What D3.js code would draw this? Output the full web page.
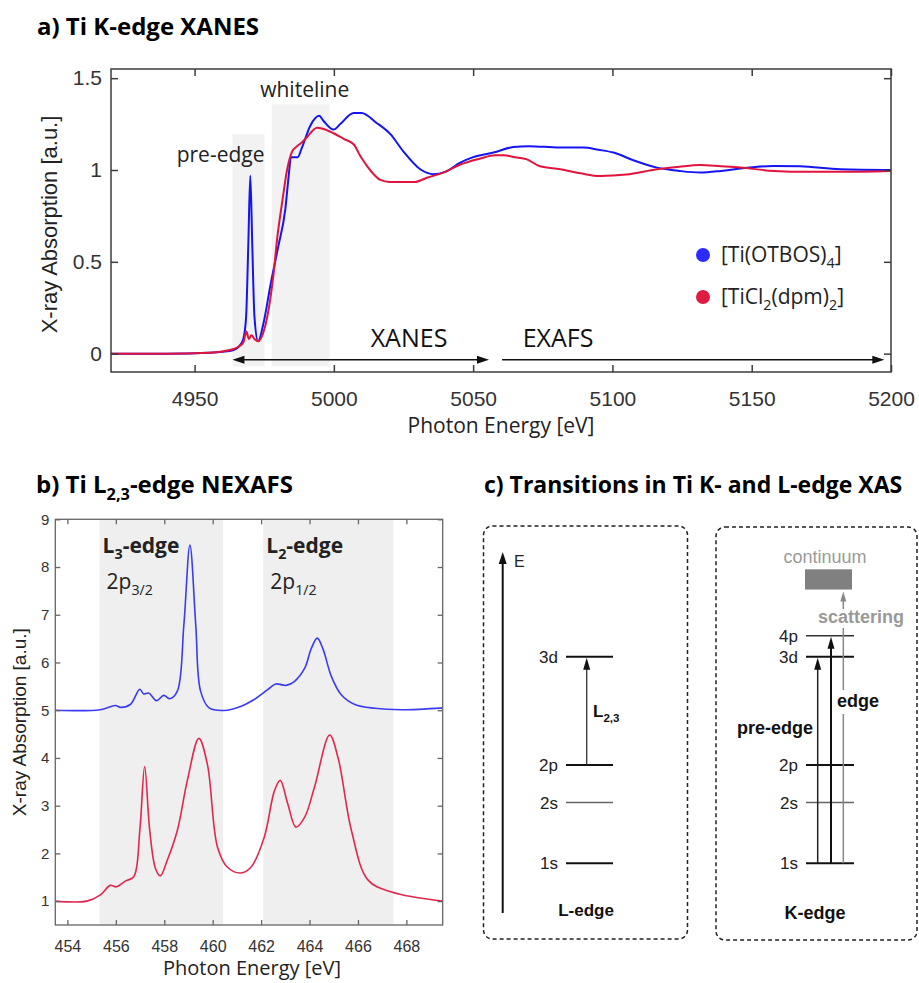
<!DOCTYPE html>
<html>
<head>
<meta charset="utf-8">
<script src="https://cdn.jsdelivr.net/npm/d3@7"></script>
<style>
  body { margin: 0; background: #fff; }
  svg { display: block; }
</style>
</head>
<body>
<div id="app"></div>
<script>
// ---- a) Ti K-edge XANES ----
const otbosEnergy = [4920, 4940, 4955, 4960, 4964, 4966, 4967.5, 4968.5, 4969.3, 4970, 4970.7, 4971.5, 4972.8,
  4974.8, 4977.2, 4980, 4982.6, 4983.8, 4984.6, 4987, 4988.5, 4991.5, 4994.7, 4996.3, 4999.9, 5002.3, 5007.1,
  5010, 5015, 5020.3, 5025, 5031, 5035.8, 5040, 5045.4, 5050, 5057.3, 5064.4, 5070, 5081, 5089.6, 5095,
  5100.4, 5108, 5116, 5124, 5131.5, 5139, 5145.9, 5157.8, 5167.4, 5181.8, 5200];
const otbosAbs = [0, 0, 0.005, 0.01, 0.02, 0.04, 0.08, 0.2, 0.6, 0.97, 0.6, 0.2, 0.067,
  0.17, 0.37, 0.58, 0.79, 0.97, 1.07, 1.07, 1.12, 1.24, 1.295, 1.267, 1.22, 1.25, 1.31,
  1.31, 1.26, 1.195, 1.10, 1.004, 0.977, 0.99, 1.04, 1.07, 1.095, 1.125, 1.13, 1.122, 1.122, 1.11,
  1.095, 1.05, 1.013, 0.995, 0.986, 0.995, 1.008, 1.022, 1.02, 1.004, 1.0];

const ticlEnergy = [4920, 4940, 4955, 4960, 4964, 4966, 4967.5, 4968.6, 4969.5, 4970.4, 4971.5, 4972.8, 4975,
  4977.2, 4978.4, 4979.6, 4981.5, 4983.2, 4985, 4986.8, 4988.5, 4990.4, 4994, 4996, 4999.9, 5003.5, 5007.1,
  5009.5, 5012, 5014.3, 5016.7, 5020, 5025, 5029, 5033.4, 5040, 5045.4, 5052, 5058, 5061, 5065, 5069.3, 5074,
  5081.3, 5088.5, 5095.6, 5105, 5116, 5124, 5131.5, 5139, 5145.9, 5158, 5170, 5181.8, 5200];
const ticlAbs = [0, 0, 0.005, 0.012, 0.025, 0.04, 0.06, 0.12, 0.08, 0.10, 0.08, 0.067, 0.13,
  0.30, 0.44, 0.62, 0.83, 1.0, 1.10, 1.13, 1.15, 1.18, 1.23, 1.225, 1.20, 1.17, 1.14,
  1.076, 1.02, 0.977, 0.946, 0.935, 0.935, 0.935, 0.958, 0.99, 1.03, 1.06, 1.08, 1.08, 1.07, 1.058, 1.02,
  1.004, 0.982, 0.967, 0.975, 1.004, 1.018, 1.027, 1.02, 1.013, 0.995, 0.99, 0.99, 0.995];

const kTicksX = [4950, 5000, 5050, 5100, 5150, 5200];
const kTicksY = [0, 0.5, 1, 1.5];
const kBands = [
  { name: 'pre-edge', from: 4963.6, to: 4975.1, top: 1.195 },
  { name: 'whiteline', from: 4977.7, to: 4998.5, top: 1.358 }
];
const kRegions = [
  { name: 'XANES', from: 4963.6, to: 5055.7, heads: ['left', 'right'] },
  { name: 'EXAFS', from: 5060.4, to: 5197.6, heads: ['right'] }
];
const kLegend = [
  { parts: [['[Ti(OTBOS)'], ['4', 1], [']']], color: '#2b2bff' },
  { parts: [['[TiCl'], ['2', 1], ['(dpm)'], ['2', 1], [']']], color: '#e01a40' }
];

// ---- b) Ti L2,3-edge NEXAFS ----
const lBlueEnergy = [453.5, 455.35, 455.98, 456.2, 456.6, 456.99, 457.15, 457.36, 457.68, 457.98, 458.23, 458.54,
  458.81, 459.06, 459.3, 459.5, 459.85, 460.6, 461.16, 461.7, 462.27, 462.6, 463.03, 463.37, 463.8, 464.07,
  464.32, 464.55, 464.9, 465.3, 465.87, 466.7, 467.8, 469.5];
const lBlueAbs = [5.0, 5.01, 5.10, 5.06, 5.12, 5.44, 5.34, 5.36, 5.20, 5.31, 5.24, 5.40,
  6.79, 8.46, 6.79, 5.40, 5.05, 5.0, 5.08, 5.22, 5.43, 5.55, 5.52, 5.60, 5.88, 6.29,
  6.51, 6.29, 5.71, 5.33, 5.12, 5.04, 5.01, 5.05];

const lRedEnergy = [453.5, 454.8, 455.35, 455.77, 456.02, 456.39, 456.74, 456.99, 457.19, 457.4, 457.64, 457.84,
  458.12, 458.54, 458.95, 459.43, 459.78, 460.2, 460.61, 461.16, 461.58, 462.13, 462.55, 462.79, 463.1, 463.44,
  463.8, 464.2, 464.83, 465.18, 465.73, 466.42, 467.39, 469.5];
const lRedAbs = [1.0, 1.0, 1.125, 1.33, 1.30, 1.42, 1.51, 2.48, 3.82, 2.48, 1.68, 1.53,
  1.85, 2.48, 3.52, 4.41, 3.87, 2.13, 1.71, 1.59, 1.71, 2.34, 3.31, 3.53, 3.04, 2.55,
  2.76, 3.38, 4.48, 4.0, 2.48, 1.44, 1.19, 1.0];

const lTicksX = [454, 456, 458, 460, 462, 464, 466, 468];
const lTicksY = [1, 2, 3, 4, 5, 6, 7, 8, 9];
const lBands = [
  { from: 455.33, to: 460.43, edge: [['L'], ['3', 1], ['-edge']], orbital: [['2p'], ['3/2', 1]] },
  { from: 462.09, to: 467.46, edge: [['L'], ['2', 1], ['-edge']], orbital: [['2p'], ['1/2', 1]] }
];

// ---- c) level diagram (relative energy) ----
const levelNames = ['1s', '2s', '2p', '3d', '4p'];
const levelEnergy = [0.138, 0.306, 0.41, 0.71, 0.768];
const continuumRange = [0.896, 0.952];

const calibri = "'Open Sans', sans-serif";
const arial = "'Liberation Sans', Arial, sans-serif";

const svg = d3.select('#app').append('svg')
  .attr('width', 919)
  .attr('height', 983)
  .attr('viewBox', '0 0 919 983');

const richText = (g, parts, size) => {
  const t = g.append('text').attr('font-size', size);
  let shifted = false;
  parts.forEach(([s, sub]) => {
    const span = t.append('tspan').text(s);
    if (sub && !shifted) { span.attr('dy', size * 0.28); shifted = true; }
    if (!sub && shifted) { span.attr('dy', -size * 0.28); shifted = false; }
    if (sub) span.attr('font-size', size * 0.68);
  });
  return t;
};

const arrowHead = (g, x, y, dir, len, half, fill) => {
  const pts = {
    up: [[x, y], [x - half, y + len], [x + half, y + len]],
    left: [[x, y], [x + len, y - half], [x + len, y + half]],
    right: [[x, y], [x - len, y - half], [x - len, y + half]]
  }[dir];
  g.append('path').attr('d', d3.line()(pts) + 'Z').attr('fill', fill);
};

const frame = (g, x, y, color, width, tickLen, ticksX, ticksY) => {
  const [x0, x1] = x.range();
  const [y0, y1] = y.range();
  g.append('g').attr('transform', `translate(0,${y0})`)
    .call(d3.axisBottom(x).tickValues(ticksX).tickSize(-tickLen).tickFormat(''));
  g.append('g').attr('transform', `translate(0,${y1})`)
    .call(d3.axisTop(x).tickValues(ticksX).tickSize(-tickLen).tickFormat(''));
  g.append('g').attr('transform', `translate(${x0},0)`)
    .call(d3.axisLeft(y).tickValues(ticksY).tickSize(-tickLen).tickFormat(''));
  g.append('g').attr('transform', `translate(${x1},0)`)
    .call(d3.axisRight(y).tickValues(ticksY).tickSize(-tickLen).tickFormat(''));
  g.selectAll('.domain').remove();
  g.selectAll('.tick line').attr('stroke', color).attr('stroke-width', width);
  g.append('rect')
    .attr('x', x0).attr('y', y1).attr('width', x1 - x0).attr('height', y0 - y1)
    .attr('fill', 'none').attr('stroke', color).attr('stroke-width', width);
};

// ================= panel a =================
const xA = d3.scaleLinear().domain([4920, 5200]).range([111, 891]);
const yA = d3.scaleLinear().domain([-0.1, 1.55]).range([372, 69]);
const gA = svg.append('g');

gA.append('text').attr('x', 37).attr('y', 35)
  .attr('font-family', calibri).attr('font-weight', 700).attr('font-size', 24)
  .text('a) Ti K-edge XANES');

kBands.forEach(b => {
  gA.append('rect')
    .attr('x', xA(b.from)).attr('width', xA(b.to) - xA(b.from))
    .attr('y', yA(b.top)).attr('height', yA(-0.07) - yA(b.top))
    .attr('fill', '#f2f2f2');
});

const lineA = (xs, ys) => d3.line()
  .x((d, i) => xA(xs[i])).y(d => yA(d))
  .curve(d3.curveMonotoneX)(ys);

gA.append('path').attr('d', lineA(otbosEnergy, otbosAbs))
  .attr('fill', 'none').attr('stroke', '#1414f5').attr('stroke-width', 2);
gA.append('path').attr('d', lineA(ticlEnergy, ticlAbs))
  .attr('fill', 'none').attr('stroke', '#e0143c').attr('stroke-width', 2);

gA.append('text').attr('x', xA(kBands[0].to)).attr('y', yA(kBands[0].top) + 28)
  .attr('text-anchor', 'end').attr('font-family', calibri).attr('font-size', 21).attr('fill', '#222')
  .text(kBands[0].name);
gA.append('text').attr('x', (xA(kBands[1].from) + xA(kBands[1].to)) / 2 + 4).attr('y', yA(kBands[1].top) - 7)
  .attr('text-anchor', 'middle').attr('font-family', calibri).attr('font-size', 21).attr('fill', '#222')
  .text(kBands[1].name);

const arrowY = yA(-0.033);
kRegions.forEach((r, i) => {
  const xa = xA(r.from), xb = xA(r.to);
  gA.append('line').attr('x1', xa + (r.heads.includes('left') ? 6 : 0)).attr('x2', xb - 6)
    .attr('y1', arrowY).attr('y2', arrowY).attr('stroke', '#111').attr('stroke-width', 1.6);
  r.heads.forEach(h => arrowHead(gA, h === 'left' ? xa : xb, arrowY, h, 12, 4, '#111'));
  gA.append('text')
    .attr('x', i === 0 ? xb - 80 : xa + 56).attr('y', arrowY - 13)
    .attr('text-anchor', 'middle').attr('font-family', calibri).attr('font-size', 25).attr('fill', '#111')
    .text(r.name);
});

kLegend.forEach((l, i) => {
  const cy = 255 + i * 42;
  gA.append('circle').attr('cx', 703).attr('cy', cy).attr('r', 7).attr('fill', l.color);
  richText(gA, l.parts, 21).attr('x', 721).attr('y', cy + 7)
    .attr('font-family', calibri).attr('fill', '#222');
});

frame(gA, xA, yA, '#3c3c3c', 1.5, 7, kTicksX, kTicksY);

gA.append('g').attr('transform', `translate(0,${yA.range()[0]})`)
  .call(d3.axisBottom(xA).tickValues(kTicksX).tickSize(0).tickPadding(19).tickFormat(d3.format('d')))
  .call(g => g.select('.domain').remove())
  .selectAll('text').attr('font-family', arial).attr('font-size', 21).attr('fill', '#333');
gA.append('g').attr('transform', `translate(${xA.range()[0]},0)`)
  .call(d3.axisLeft(yA).tickValues(kTicksY).tickSize(0).tickPadding(9).tickFormat(d3.format('~g')))
  .call(g => g.select('.domain').remove())
  .selectAll('text').attr('font-family', arial).attr('font-size', 21).attr('fill', '#333');

gA.append('text').attr('x', 501).attr('y', 433).attr('text-anchor', 'middle')
  .attr('font-family', calibri).attr('font-size', 21).attr('fill', '#222')
  .text('Photon Energy [eV]');
gA.append('text').attr('transform', `translate(57,${(yA.range()[0] + yA.range()[1]) / 2 + 4}) rotate(-90)`)
  .attr('text-anchor', 'middle').attr('font-family', arial).attr('font-size', 22).attr('fill', '#222')
  .text('X-ray Absorption [a.u.]');

// ================= panel b =================
const xB = d3.scaleLinear().domain([453.5, 469.5]).range([55.3, 442.7]);
const yB = d3.scaleLinear().domain([0.5, 9]).range([925, 519.3]);
const gB = svg.append('g');

richText(gB, [['b) Ti L'], ['2,3', 1], ['-edge NEXAFS']], 24)
  .attr('x', 36).attr('y', 493)
  .attr('font-family', calibri).attr('font-weight', 700);

lBands.forEach(b => {
  gB.append('rect')
    .attr('x', xB(b.from)).attr('width', xB(b.to) - xB(b.from))
    .attr('y', yB.range()[1]).attr('height', yB.range()[0] - yB.range()[1])
    .attr('fill', '#efefef');
  richText(gB, b.edge, 21).attr('x', xB(b.from) + 3).attr('y', 553)
    .attr('font-family', calibri).attr('font-weight', 700).attr('fill', '#222');
  richText(gB, b.orbital, 21).attr('x', xB(b.from) + 7).attr('y', 589)
    .attr('font-family', calibri).attr('fill', '#222');
});

// smoother, rounded peaks for the soft X-ray spectra
const lineB = (xs, ys) => d3.line()
  .x((d, i) => xB(xs[i])).y(d => yB(d))
  .curve(d3.curveCatmullRom.alpha(0.5))(ys);

gB.append('path').attr('d', lineB(lBlueEnergy, lBlueAbs))
  .attr('fill', 'none').attr('stroke', '#3b3bf0').attr('stroke-width', 1.6);
gB.append('path').attr('d', lineB(lRedEnergy, lRedAbs))
  .attr('fill', 'none').attr('stroke', '#e0284e').attr('stroke-width', 1.6);

frame(gB, xB, yB, '#666', 1.3, 5, lTicksX, lTicksY);

gB.append('g').attr('transform', `translate(0,${yB.range()[0]})`)
  .call(d3.axisBottom(xB).tickValues(lTicksX).tickSize(0).tickPadding(16))
  .call(g => g.select('.domain').remove())
  .selectAll('text').attr('font-family', arial).attr('font-size', 16).attr('fill', '#333');
gB.append('g').attr('transform', `translate(${xB.range()[0]},0)`)
  .call(d3.axisLeft(yB).tickValues(lTicksY).tickSize(0).tickPadding(6))
  .call(g => g.select('.domain').remove())
  .selectAll('text').attr('font-family', arial).attr('font-size', 15).attr('fill', '#333');

gB.append('text').attr('x', 252).attr('y', 975).attr('text-anchor', 'middle')
  .attr('font-family', calibri).attr('font-size', 20).attr('fill', '#222')
  .text('Photon Energy [eV]');
gB.append('text').attr('transform', `translate(26,${(yB.range()[0] + yB.range()[1]) / 2}) rotate(-90)`)
  .attr('text-anchor', 'middle').attr('font-family', arial).attr('font-size', 19).attr('fill', '#222')
  .text('X-ray Absorption [a.u.]');

// ================= panel c =================
const gC = svg.append('g');
const eY = d3.scaleLinear().domain([0, 1]).range([913, 552]);
const lvl = n => eY(levelEnergy[levelNames.indexOf(n)]);

gC.append('text').attr('x', 484).attr('y', 493)
  .attr('font-family', calibri).attr('font-weight', 700).attr('font-size', 23)
  .text('c) Transitions in Ti K- and L-edge XAS');

[[483.5, 526, 204, 413], [716, 527, 201, 413]].forEach(([x, y, w, h]) => {
  gC.append('rect').attr('x', x).attr('y', y).attr('width', w).attr('height', h)
    .attr('rx', 9).attr('fill', 'none').attr('stroke', '#222')
    .attr('stroke-width', 1.5).attr('stroke-dasharray', '4,3');
});

const levelStyle = name => name === '2s' ? ['#666', 1.6] : name === '4p' ? ['#333', 1.4] : ['#111', 2];
const drawLevels = (names, x0, x1) => names.forEach(n => {
  const y = lvl(n);
  const [c, w] = levelStyle(n);
  gC.append('line').attr('x1', x0).attr('x2', x1).attr('y1', y).attr('y2', y)
    .attr('stroke', c).attr('stroke-width', w);
  gC.append('text').attr('x', x0 - 8).attr('y', y + 6).attr('text-anchor', 'end')
    .attr('font-family', arial).attr('font-size', 17).attr('fill', '#222').text(n);
});

// energy axis
gC.append('line').attr('x1', 502.7).attr('x2', 502.7).attr('y1', eY(0)).attr('y2', eY(1) + 10)
  .attr('stroke', '#111').attr('stroke-width', 2);
arrowHead(gC, 502.7, eY(1), 'up', 12, 4, '#111');
gC.append('text').attr('x', 514).attr('y', 567).attr('font-family', arial).attr('font-size', 16)
  .attr('fill', '#222').text('E');

drawLevels(['1s', '2s', '2p', '3d'], 566, 613);

// L2,3 transition
gC.append('line').attr('x1', 586.7).attr('x2', 586.7).attr('y1', lvl('2p')).attr('y2', lvl('3d') + 10)
  .attr('stroke', '#333').attr('stroke-width', 1.3);
arrowHead(gC, 586.7, lvl('3d') + 1, 'up', 12, 3.5, '#111');
richText(gC, [['L'], ['2,3', 1]], 17).attr('x', 593).attr('y', 717)
  .attr('font-family', arial).attr('font-weight', 700).attr('fill', '#111');
gC.append('text').attr('x', 586).attr('y', 916).attr('text-anchor', 'middle')
  .attr('font-family', arial).attr('font-weight', 700).attr('font-size', 17).attr('fill', '#111')
  .text('L-edge');

// K-edge side
drawLevels(['1s', '2s', '2p', '3d', '4p'], 806, 854);
const cTop = eY(continuumRange[1]), cBot = eY(continuumRange[0]);
gC.append('rect').attr('x', 805).attr('width', 47).attr('y', cTop).attr('height', cBot - cTop)
  .attr('fill', '#808080');
gC.append('text').attr('x', 825).attr('y', 563).attr('text-anchor', 'middle')
  .attr('font-family', arial).attr('font-size', 18).attr('fill', '#9a9a9a').text('continuum');

// pre-edge: 1s -> 3d
gC.append('line').attr('x1', 817.7).attr('x2', 817.7).attr('y1', lvl('1s')).attr('y2', lvl('3d') + 10)
  .attr('stroke', '#222').attr('stroke-width', 1.5);
arrowHead(gC, 817.7, lvl('3d') + 1, 'up', 12, 3.5, '#111');
// edge: 1s -> 4p
gC.append('line').attr('x1', 831).attr('x2', 831).attr('y1', lvl('1s')).attr('y2', lvl('4p') + 10)
  .attr('stroke', '#111').attr('stroke-width', 2);
arrowHead(gC, 831, lvl('4p') + 1, 'up', 12, 3.5, '#111');
// scattering: 1s -> continuum
gC.append('line').attr('x1', 843.3).attr('x2', 843.3).attr('y1', lvl('1s')).attr('y2', 714)
  .attr('stroke', '#888').attr('stroke-width', 1.5);
gC.append('line').attr('x1', 843.3).attr('x2', 843.3).attr('y1', 690).attr('y2', 628)
  .attr('stroke', '#888').attr('stroke-width', 1.5);
gC.append('line').attr('x1', 843.3).attr('x2', 843.3).attr('y1', 609).attr('y2', cBot + 10)
  .attr('stroke', '#888').attr('stroke-width', 1.5);
arrowHead(gC, 843.3, cBot + 2, 'up', 10, 3, '#888');

gC.append('text').attr('x', 837).attr('y', 707)
  .attr('font-family', arial).attr('font-weight', 700).attr('font-size', 18).attr('fill', '#111')
  .text('edge');
gC.append('text').attr('x', 813).attr('y', 734).attr('text-anchor', 'end')
  .attr('font-family', arial).attr('font-weight', 700).attr('font-size', 18).attr('fill', '#111')
  .text('pre-edge');
gC.append('text').attr('x', 861).attr('y', 623).attr('text-anchor', 'middle')
  .attr('font-family', arial).attr('font-weight', 700).attr('font-size', 18).attr('fill', '#999')
  .text('scattering');
gC.append('text').attr('x', 815).attr('y', 919).attr('text-anchor', 'middle')
  .attr('font-family', arial).attr('font-weight', 700).attr('font-size', 18).attr('fill', '#111')
  .text('K-edge');
</script>
</body>
</html>
